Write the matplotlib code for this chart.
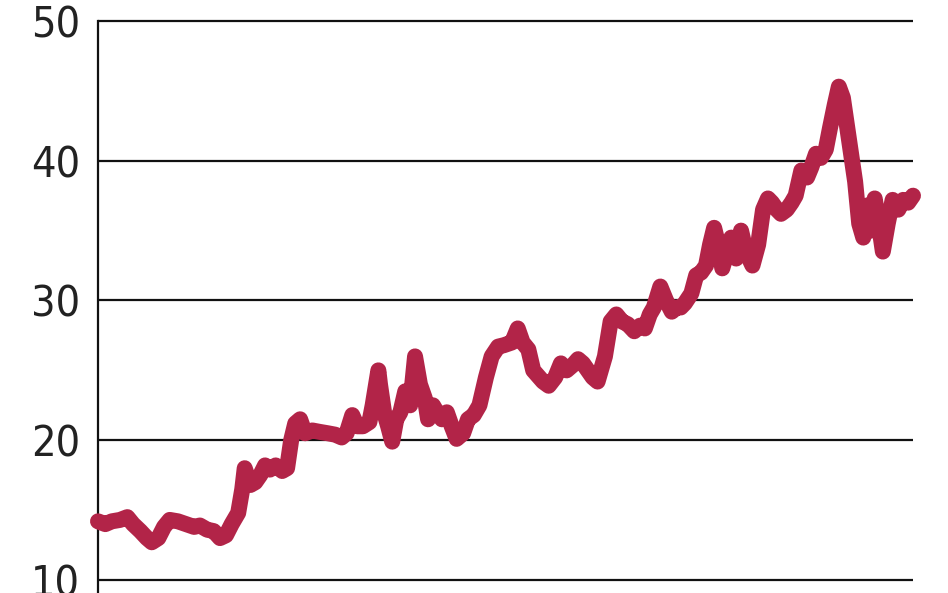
import matplotlib
matplotlib.use("Agg")
import matplotlib.pyplot as plt
import numpy as np

# time position (0-100 along the period) and price
t = [0.0, 0.9, 1.7, 2.7, 3.6, 4.3, 5.2, 6.0, 6.6, 7.4, 8.1, 8.8, 9.8, 10.8,
     11.8, 12.5, 13.4, 14.2, 14.969, 15.7, 16.4, 17.2, 17.7, 18.0, 18.7, 19.3,
     19.9, 20.5, 21.1, 21.8, 22.6, 23.2, 23.7, 24.2, 24.8, 25.4, 26.3, 27.2,
     28.2, 29.1, 29.9, 30.5, 31.2, 31.8, 32.5, 33.3, 33.7, 34.4, 34.6, 35.1,
     35.6, 36.1, 36.6, 37.1, 37.7, 38.3, 38.9, 39.5, 40.1, 40.5, 41.1, 41.6,
     42.2, 42.8, 43.4, 44.0, 44.8, 45.4, 46.1, 46.8, 47.6, 48.3, 49.1, 49.8,
     50.8, 51.5, 52.1, 52.8, 53.4, 54.6, 55.3, 56.1, 56.8, 57.5, 58.3, 58.9,
     59.5, 60.1, 60.7, 61.3, 62.2, 62.9, 63.6, 64.3, 65.0, 65.8, 66.5, 67.1,
     67.7, 68.2, 69.0, 69.7, 70.4, 71.0, 71.5, 72.0, 72.8, 73.4, 74.0, 74.6,
     75.1, 75.6, 76.1, 76.6, 77.2, 77.7, 78.3, 78.9, 79.5, 80.3, 81.0, 81.6,
     82.2, 82.7, 83.3, 83.8, 84.5, 85.1, 85.6, 86.3, 87.0, 87.5, 88.1, 88.7,
     89.3, 89.8, 90.4, 90.9, 91.4, 91.9, 92.4, 92.9, 93.4, 93.9, 94.4, 94.8,
     95.3, 95.8, 96.3, 96.9, 97.5, 98.2, 98.8, 99.4, 100.0]
price = [14.2, 14.0, 14.2, 14.3, 14.5, 14.0, 13.5, 13.0, 12.7, 13.0, 13.8, 14.3,
         14.2, 14.0, 13.8, 13.9, 13.6, 13.5, 13.0, 13.2, 14.0, 14.8, 16.5, 18.0,
         16.8, 17.0, 17.5, 18.2, 17.9, 18.2, 17.8, 18.0, 20.0, 21.2, 21.5, 20.5,
         20.7, 20.6, 20.5, 20.4, 20.2, 20.5, 21.8, 21.0, 21.0, 21.3, 22.5, 25.0,
         24.0, 22.0, 21.0, 19.9, 21.5, 22.0, 23.5, 22.5, 26.0, 24.0, 23.0, 21.5,
         22.5, 22.0, 21.5, 22.0, 21.0, 20.1, 20.5, 21.5, 21.8, 22.5, 24.5, 26.0,
         26.7, 26.8, 27.0, 28.0, 27.0, 26.5, 25.0, 24.2, 23.9, 24.5, 25.5, 25.0,
         25.4, 25.8, 25.5, 25.0, 24.5, 24.2, 26.0, 28.5, 29.0, 28.5, 28.3, 27.8,
         28.2, 28.0, 29.0, 29.5, 31.0, 30.0, 29.2, 29.5, 29.5, 29.8, 30.5, 31.8,
         32.0, 32.5, 34.0, 35.2, 34.0, 32.3, 33.5, 34.5, 33.0, 35.0, 33.5, 32.5,
         34.0, 36.5, 37.3, 37.0, 36.5, 36.2, 36.5, 37.0, 37.5, 39.3, 38.8, 39.5,
         40.5, 40.2, 40.8, 42.3, 44.0, 45.3, 44.5, 42.5, 40.5, 38.5, 35.5, 34.5,
         36.8, 35.0, 37.3, 35.5, 33.5, 35.5, 37.2, 36.5, 37.2, 37.0, 37.5]
yticks = [10, 20, 30, 40, 50]

n = min(len(t), len(price))
t = t[:n]
price = price[:n]

fig = plt.figure(figsize=(9.48, 5.93), dpi=100)
ax = fig.add_axes([98 / 948, 0, 815 / 948, 1])

ax.plot(t, price, color='#b22448', linewidth=11.5, solid_capstyle='round',
        solid_joinstyle='round', zorder=3, clip_on=False)

ax.set_xlim(0, 100)
ax.set_ylim(10 - 13 / 14, 50 + 21 / 14)
ax.set_yticks(yticks)
ax.set_yticklabels([str(v) for v in yticks], fontsize=31, color='#222222',
                   fontstretch='condensed')
ax.tick_params(axis='y', length=0, pad=13)
ax.set_xticks([])
ax.grid(axis='y', color='#111111', linewidth=1.6, zorder=0)

for side in ['top', 'right', 'bottom']:
    ax.spines[side].set_visible(False)
ax.spines['left'].set_color('#111111')
ax.spines['left'].set_linewidth(1.6)
ax.spines['left'].set_bounds(10 - 13 / 14, 50)

fig.savefig('out.png', dpi=100, facecolor='white')
